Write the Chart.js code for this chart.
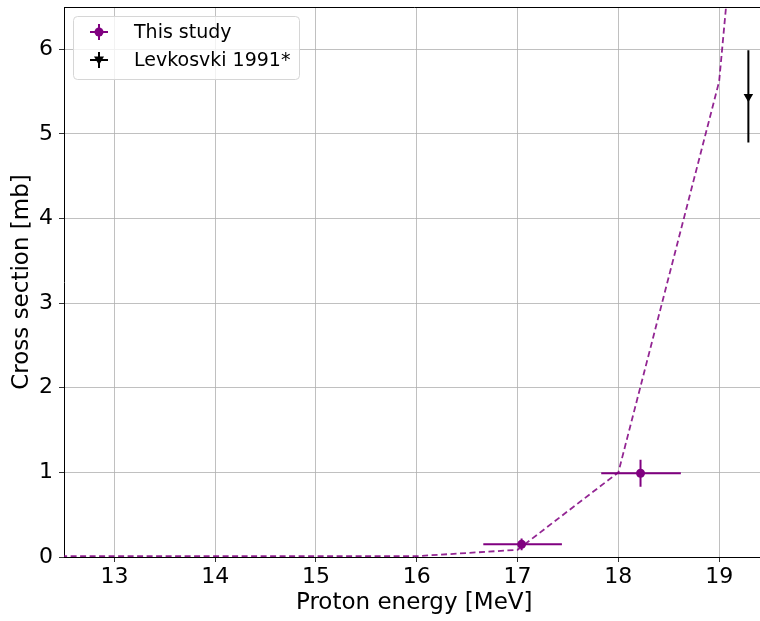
<!DOCTYPE html>
<html>
<head>
<meta charset="utf-8">
<script src="https://cdn.jsdelivr.net/npm/chart.js@4.4.1/dist/chart.umd.min.js"></script>
<style>
  html, body { margin: 0; padding: 0; background: #fff; overflow: hidden; }
  #wrap { width: 770px; height: 621px; }
</style>
</head>
<body>
<div id="wrap"><canvas id="chart" width="770" height="621"></canvas></div>
<script>
// Model curve (dashed)
const curveEnergy = [12, 13, 14, 15, 16, 17, 18, 19, 20];
const curveXs = [0.01, 0.01, 0.01, 0.01, 0.01, 0.085, 1.0, 5.62, 18.5];

// This study
const studyEnergy = [17.04, 18.22];
const studyXs = [0.15, 0.99];
const studyEnergyLo = [16.66, 17.83];
const studyEnergyHi = [17.44, 18.62];
const studyXsLo = [0.08, 0.83];
const studyXsHi = [0.22, 1.15];

// Levkosvki 1991*
const levEnergy = [19.29];
const levXs = [5.44];
const levXsLo = [4.90];
const levXsHi = [5.99];

const xTicks = [13, 14, 15, 16, 17, 18, 19];
const yTicks = [0, 1, 2, 3, 4, 5, 6];

const purple = '#800080';
const font = 'DejaVu Sans';

function toPoints(xs, ys) {
    return xs.map((x, i) => ({ x: x, y: ys[i] }));
}

// Draw error bars for datasets that carry them
const errorBars = {
    id: 'errorBars',
    beforeDatasetsDraw(chart) {
        const { ctx, chartArea, scales: { x, y } } = chart;
        ctx.save();
        ctx.beginPath();
        ctx.rect(chartArea.left, chartArea.top,
                 chartArea.right - chartArea.left, chartArea.bottom - chartArea.top);
        ctx.clip();
        chart.data.datasets.forEach(ds => {
            if (!ds.err) return;
            ctx.strokeStyle = ds.borderColor;
            ctx.lineWidth = 2;
            ds.data.forEach((p, i) => {
                const px = x.getPixelForValue(p.x);
                const py = y.getPixelForValue(p.y);
                ctx.beginPath();
                if (ds.err.xLo) {
                    ctx.moveTo(x.getPixelForValue(ds.err.xLo[i]), py);
                    ctx.lineTo(x.getPixelForValue(ds.err.xHi[i]), py);
                }
                ctx.moveTo(px, y.getPixelForValue(ds.err.yLo[i]));
                ctx.lineTo(px, y.getPixelForValue(ds.err.yHi[i]));
                ctx.stroke();
            });
        });
        ctx.restore();
    }
};

// matplotlib-style legend inside the axes + top frame line
const boxLegend = {
    id: 'boxLegend',
    afterDraw(chart) {
        const { ctx, chartArea } = chart;
        ctx.save();
        // top spine
        ctx.strokeStyle = '#000';
        ctx.lineWidth = 1;
        ctx.beginPath();
        ctx.moveTo(chartArea.left, chartArea.top + 0.5);
        ctx.lineTo(chartArea.right, chartArea.top + 0.5);
        ctx.stroke();

        const bx = 73, by = 16, bw = 226, bh = 63, r = 4;
        ctx.fillStyle = 'rgba(255,255,255,0.8)';
        ctx.strokeStyle = '#d6d6d6';
        ctx.beginPath();
        ctx.roundRect(bx + 0.5, by + 0.5, bw, bh, r);
        ctx.fill();
        ctx.stroke();

        const items = [
            { label: 'This study', color: purple, marker: 'circle', y: 32 },
            { label: 'Levkosvki 1991*', color: '#000', marker: 'tri', y: 60 }
        ];
        items.forEach(it => {
            const mx = 99;
            ctx.strokeStyle = it.color;
            ctx.fillStyle = it.color;
            ctx.lineWidth = 2;
            ctx.beginPath();
            ctx.moveTo(mx - 9, it.y);
            ctx.lineTo(mx + 9, it.y);
            ctx.moveTo(mx, it.y - 8);
            ctx.lineTo(mx, it.y + 8);
            ctx.stroke();
            ctx.beginPath();
            if (it.marker === 'circle') {
                ctx.arc(mx, it.y, 4.5, 0, Math.PI * 2);
            } else {
                ctx.moveTo(mx - 5, it.y - 3.5);
                ctx.lineTo(mx + 5, it.y - 3.5);
                ctx.lineTo(mx, it.y + 5);
                ctx.closePath();
            }
            ctx.fill();
            ctx.fillStyle = '#000';
            ctx.font = '19px "' + font + '"';
            ctx.textBaseline = 'middle';
            ctx.textAlign = 'left';
            ctx.fillText(it.label, 134, it.y + 1);
        });
        ctx.restore();
    }
};

new Chart(document.getElementById('chart'), {
    type: 'scatter',
    data: {
        datasets: [
            {
                label: 'This study',
                data: toPoints(studyEnergy, studyXs),
                borderColor: purple,
                backgroundColor: purple,
                pointStyle: 'circle',
                pointRadius: 4.5,
                pointBorderWidth: 0,
                err: { xLo: studyEnergyLo, xHi: studyEnergyHi, yLo: studyXsLo, yHi: studyXsHi },
                order: 1
            },
            {
                label: 'Levkosvki 1991*',
                data: toPoints(levEnergy, levXs),
                borderColor: '#000',
                backgroundColor: '#000',
                pointStyle: 'triangle',
                rotation: 180,
                pointRadius: 5.5,
                pointBorderWidth: 0,
                err: { yLo: levXsLo, yHi: levXsHi },
                order: 1
            },
            {
                label: 'model',
                data: toPoints(curveEnergy, curveXs),
                showLine: true,
                borderColor: 'rgba(128,0,128,0.85)',
                borderWidth: 1.8,
                borderDash: [6, 3.5],
                pointRadius: 0,
                tension: 0,
                order: 2
            }
        ]
    },
    options: {
        responsive: false,
        animation: false,
        devicePixelRatio: 1,
        layout: { padding: { top: 7, right: 5, left: 0, bottom: 0 } },
        plugins: { legend: { display: false }, tooltip: { enabled: false } },
        scales: {
            x: {
                type: 'linear',
                min: 12.5,
                max: 19.45,
                afterBuildTicks: s => { s.ticks = xTicks.map(v => ({ value: v })); },
                afterFit: s => { s.height = 64; s.paddingLeft = 0; s.paddingRight = 0; },
                grid: { color: '#b0b0b0', lineWidth: 0.8, tickLength: 5, tickColor: '#000' },
                border: { color: '#000', width: 1 },
                ticks: { color: '#000', font: { family: font, size: 22 }, padding: 2, maxRotation: 0 },
                title: { display: true, text: 'Proton energy [MeV]', color: '#000',
                         font: { family: font, size: 23 }, padding: { top: 0, bottom: 4 } }
            },
            y: {
                type: 'linear',
                min: 0,
                max: 6.5,
                afterBuildTicks: s => { s.ticks = yTicks.map(v => ({ value: v })); },
                afterFit: s => { s.width = 64; s.paddingTop = 0; s.paddingBottom = 0; },
                grid: { color: '#b0b0b0', lineWidth: 0.8, tickLength: 5, tickColor: '#000' },
                border: { color: '#000', width: 1 },
                ticks: { color: '#000', font: { family: font, size: 22 }, padding: 6 },
                title: { display: true, text: 'Cross section [mb]', color: '#000',
                         font: { family: font, size: 23 }, padding: { top: 8, bottom: 0 } }
            }
        }
    },
    plugins: [errorBars, boxLegend]
});
</script>
</body>
</html>
